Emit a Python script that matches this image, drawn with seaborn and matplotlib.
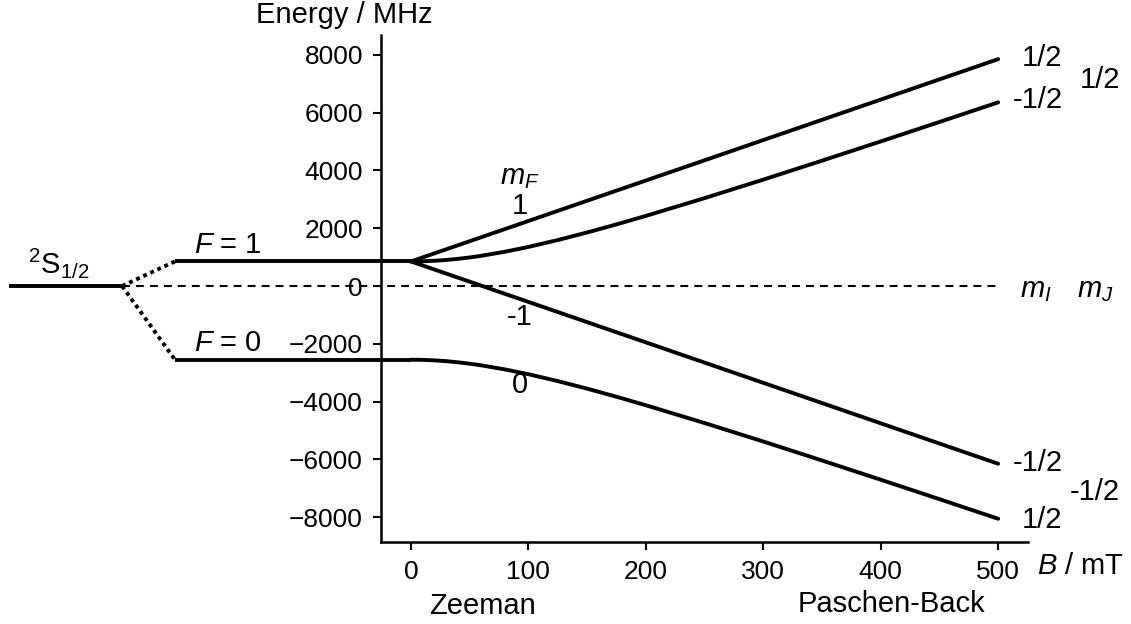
import numpy as np
import pandas as pd
import matplotlib
matplotlib.use("Agg")
import matplotlib.pyplot as plt
import seaborn as sns

# Valores (B em mT, energia em MHz)
b_curva = [0, 10, 20, 30, 40, 50, 60, 80, 100, 125, 150, 175, 200, 250, 300, 350, 400, 450, 500]
e_f1_m0 = [850, 856, 873, 901, 940, 988, 1046, 1186, 1352, 1590, 1852, 2132, 2426,
           3041, 3681, 4337, 5002, 5675, 6354]
e_f0_m0 = [-2550, -2556, -2573, -2601, -2640, -2688, -2746, -2886, -3052, -3290, -3552,
           -3832, -4126, -4741, -5381, -6037, -6702, -7375, -8054]
b_reta = [0, 500]
e_f1_mp1 = [850, 7850]
e_f1_mm1 = [850, -6150]

# Níveis à esquerda (sem campo)
b_nivel_s = [-342, -246]
e_nivel_s = [0, 0]
b_nivel_f = [-201, 0]
e_nivel_f1 = [850, 850]
e_nivel_f0 = [-2550, -2550]
b_ponto = [-246, -201]
e_ponto_f1 = [0, 850]
e_ponto_f0 = [0, -2550]
b_zero = [-246, 500]
e_zero = [0, 0]

ticks_x = [0, 100, 200, 300, 400, 500]
ticks_y = [-8000, -6000, -4000, -2000, 0, 2000, 4000, 6000, 8000]

# DataFrame longo com as curvas de Breit-Rabi
df = pd.concat([
    pd.DataFrame({"B": b_curva, "E": e_f1_m0, "nivel": "F1_m0"}),
    pd.DataFrame({"B": b_curva, "E": e_f0_m0, "nivel": "F0_m0"}),
    pd.DataFrame({"B": b_reta, "E": e_f1_mp1, "nivel": "F1_mp1"}),
    pd.DataFrame({"B": b_reta, "E": e_f1_mm1, "nivel": "F1_mm1"}),
])

sns.set_style("ticks", {"axes.edgecolor": "black", "text.color": "black",
                        "xtick.color": "black", "ytick.color": "black",
                        "axes.labelcolor": "black"})
plt.rcParams["font.family"] = ["Liberation Sans", "DejaVu Sans"]
plt.rcParams["mathtext.fontset"] = "custom"
plt.rcParams["mathtext.rm"] = "Liberation Sans"
plt.rcParams["mathtext.it"] = "Liberation Sans:italic"

fig = plt.figure(figsize=(11.31, 6.24), dpi=100)
ax = fig.add_axes([0.3369, 0.1314, 0.5721, 0.8125])

sns.lineplot(data=df, x="B", y="E", units="nivel", estimator=None,
             color="black", lw=2.8, ax=ax)

# Linha tracejada em E = 0 e níveis fora do eixo
ax.plot(b_zero, e_zero, color="black", lw=1.5, clip_on=False, dashes=[3.8, 2.9])
for bx, ey in [(b_nivel_s, e_nivel_s), (b_nivel_f, e_nivel_f1), (b_nivel_f, e_nivel_f0)]:
    ax.plot(bx, ey, color="black", lw=2.8, clip_on=False, solid_capstyle="butt")
for bx, ey in [(b_ponto, e_ponto_f1), (b_ponto, e_ponto_f0)]:
    ax.plot(bx, ey, color="black", lw=2.8, clip_on=False, linestyle=(0, (1, 1)))

ax.set_xlim(-25.5, 525.5)
ax.set_ylim(-8858, 8685)
ax.set_xticks(ticks_x)
ax.set_yticks(ticks_y)
ax.set_xlabel("")
ax.set_ylabel("")
sns.despine(ax=ax)
for s in ["left", "bottom"]:
    ax.spines[s].set_linewidth(1.8)
    ax.spines[s].set_color("black")
ax.tick_params(axis="both", labelsize=19, length=6, width=1.5, pad=7,
               direction="out", colors="black")

fs = 21
# rótulos
ax.text(-57, 9377, "Energy / MHz", fontsize=fs, ha="center", va="center")
ax.text(570, -9688, "$B$ / mT", fontsize=fs, ha="center", va="center")
ax.text(60.5, -11060, "Zeeman", fontsize=fs, ha="center", va="center")
ax.text(409, -10990, "Paschen-Back", fontsize=fs, ha="center", va="center")

ax.text(-300, 796, r"${}^{2}\mathrm{S}_{1/2}$", fontsize=fs, ha="center", va="center")
ax.text(-156, 1419, "$F$ = 1", fontsize=fs, ha="center", va="center")
ax.text(-156, -1972, "$F$ = 0", fontsize=fs, ha="center", va="center")

ax.text(92.7, 3771, "$m_F$", fontsize=fs, ha="center", va="center")
ax.text(92.7, 2768, "1", fontsize=fs, ha="center", va="center")
ax.text(92.7, -1073, "-1", fontsize=fs, ha="center", va="center")
ax.text(92.7, -3426, "0", fontsize=fs, ha="center", va="center")

ax.text(532, -150, "$m_I$", fontsize=fs, ha="center", va="center")
ax.text(583, -150, "$m_J$", fontsize=fs, ha="center", va="center")

# m_I (coluna 1) e m_J (coluna 2)
ax.text(555, 7889, "1/2", fontsize=fs, ha="right", va="center")
ax.text(555, 6436, "-1/2", fontsize=fs, ha="right", va="center")
ax.text(555, -6124, "-1/2", fontsize=fs, ha="right", va="center")
ax.text(555, -8096, "1/2", fontsize=fs, ha="right", va="center")
ax.text(604, 7128, "1/2", fontsize=fs, ha="right", va="center")
ax.text(604, -7128, "-1/2", fontsize=fs, ha="right", va="center")

plt.savefig("out.png", dpi=100)
